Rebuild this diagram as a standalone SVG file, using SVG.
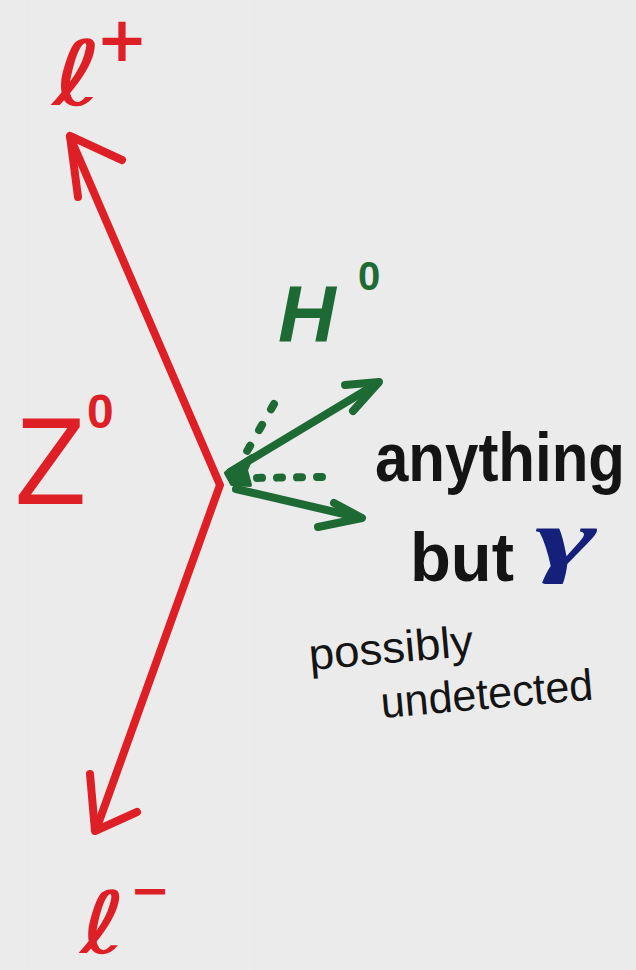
<svg xmlns="http://www.w3.org/2000/svg" width="636" height="970" viewBox="0 0 636 970">
<style>
.red{fill:#df1f26}
.grn{fill:#1e6a34}
.blk{fill:#141414}
.redl{fill:none;stroke:#df1f26;stroke-width:8;stroke-linecap:round;stroke-linejoin:round}
.grnl{fill:none;stroke:#1e6a34;stroke-width:8;stroke-linecap:round;stroke-linejoin:round}
.dot{fill:none;stroke:#1e6a34;stroke-width:8;stroke-linecap:round}
.sans{font-family:"DejaVu Sans","Liberation Sans",sans-serif}
.hand{font-family:"Liberation Sans","DejaVu Sans",sans-serif}
</style>
<rect width="636" height="970" fill="#ecebeb"/>
<line x1="28" y1="0" x2="28" y2="970" stroke="#e1eaea" stroke-width="1"/>
<line x1="254" y1="0" x2="254" y2="970" stroke="#e1eaea" stroke-width="1"/>

<g id="connectors">
  <polyline class="redl" points="70,137 220,485 96,830" stroke-linejoin="miter"/>
  <polyline class="redl" points="122,160 70,136 78,197"/>
  <polyline class="redl" points="90,774 95,831 137,812"/>
  <line class="grnl" x1="230" y1="472" x2="378" y2="383"/>
  <polyline class="grnl" points="345,385 379,382 353,411"/>
  <line class="grnl" x1="236" y1="489" x2="361" y2="518"/>
  <polyline class="grnl" points="334,503 362,518 318,527"/>
  <polygon points="226,473 252,456 246,470 250,485 232,484" fill="#1e6a34" stroke="#1e6a34" stroke-width="4" stroke-linejoin="round"/>
  <line class="dot" x1="274" y1="404" x2="242" y2="460" stroke-dasharray="6 18"/>
  <line class="dot" x1="322" y1="477" x2="250" y2="478" stroke-dasharray="5 15" stroke-width="7"/>
</g>

<g id="lplus">
  <text class="sans red" x="52" y="105" font-size="90" textLength="50" lengthAdjust="spacingAndGlyphs">ℓ</text>
  <text class="sans red" x="96" y="61" font-size="62" font-weight="bold">+</text>
</g>
<g id="lminus">
  <text class="sans red" x="80" y="953" font-size="86" textLength="46" lengthAdjust="spacingAndGlyphs">ℓ</text>
  <text class="sans red" x="130" y="907" font-size="48" font-weight="bold">−</text>
</g>
<g id="z0">
  <text class="hand red" x="15" y="504" font-size="124" textLength="71" lengthAdjust="spacingAndGlyphs">Z</text>
  <text class="hand red" x="87" y="428" font-size="48" font-weight="bold">0</text>
</g>
<g id="h0">
  <text class="hand grn" x="278" y="342" font-size="80" font-weight="bold" font-style="italic">H</text>
  <text class="hand grn" x="358" y="290" font-size="40" font-weight="bold">0</text>
</g>
<g id="anything">
  <text class="hand blk" x="375" y="481" font-size="68" font-weight="bold" textLength="250" lengthAdjust="spacingAndGlyphs">anything</text>
  <text class="hand blk" x="410" y="581" font-size="68" font-weight="bold" textLength="104" lengthAdjust="spacingAndGlyphs">but</text>
  <text x="535" y="566" font-family="'Liberation Serif','DejaVu Serif',serif" font-style="italic" font-weight="bold" font-size="82" fill="#14207a" textLength="62" lengthAdjust="spacingAndGlyphs">γ</text>
</g>
<g id="possibly">
  <text class="hand blk" x="310" y="670" font-size="44" textLength="165" lengthAdjust="spacingAndGlyphs" transform="rotate(-5 310 670)">possibly</text>
  <text class="hand blk" x="382" y="718" font-size="44" textLength="213" lengthAdjust="spacingAndGlyphs" transform="rotate(-5 382 718)">undetected</text>
</g>
</svg>
